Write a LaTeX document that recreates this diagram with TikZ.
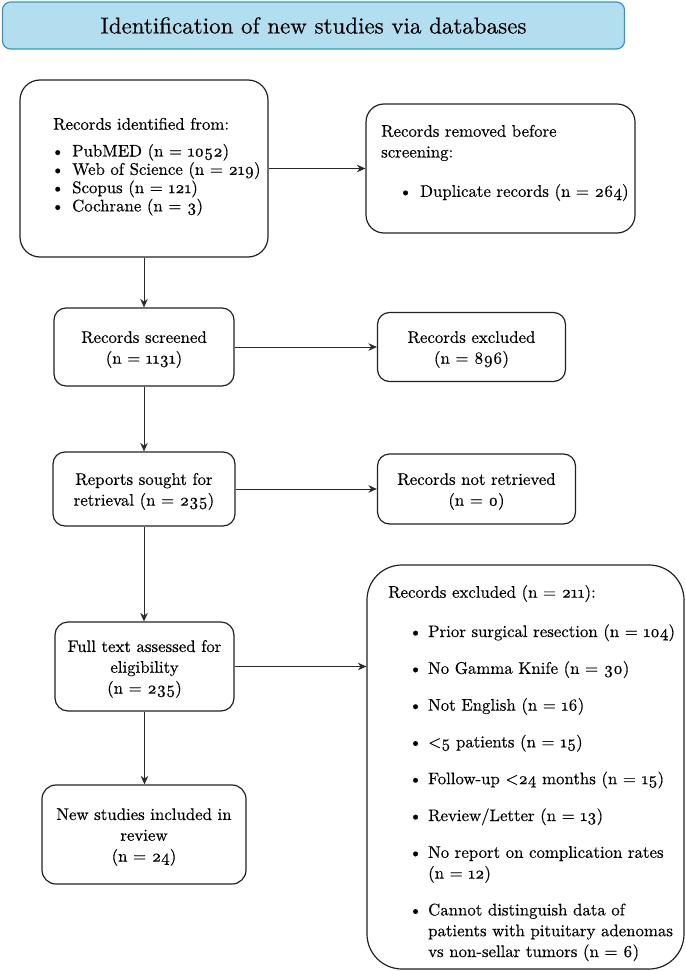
\documentclass[tikz,border=0pt]{standalone}
\usepackage{fontspec}
\setmainfont{lmroman10-regular.otf}[Numbers=OldStyle, FakeBold=0.4]
\usepackage{graphicx}
\usetikzlibrary{arrows.meta}
\definecolor{titlefill}{HTML}{B2DEF0}
\definecolor{titledraw}{HTML}{3D92C4}
\definecolor{boxline}{HTML}{222222}
\definecolor{arrline}{HTML}{2A2A2A}
\newcommand\bodyfont{\fontsize{16.8}{20.8}\selectfont}
\newcommand\listfontA{\fontsize{16.8}{18.3}\selectfont}
\newcommand\tstrut{\rule{0pt}{16.7pt}}
\newcommand\fstrut{\rule{0pt}{13pt}}
\newcommand\bul[1]{\makebox[#1][l]{\textbullet}}
\begin{document}
\begin{tikzpicture}[x=1pt,y=-1pt,
  box/.style={draw=boxline, line width=1.2pt, rectangle, inner sep=0pt, align=center, font=\bodyfont},
  conn/.style={draw=arrline, line width=1pt, -{Stealth[length=8.5pt,width=7.5pt]}},
  listtext/.style={anchor=north west, inner sep=0pt, align=left, font=\bodyfont}]
\useasboundingbox (0,0) rectangle (685,971);

\node[draw=titledraw, fill=titlefill, line width=1.2pt, rounded corners=8pt,
  minimum width=622pt, minimum height=47pt, inner sep=0pt,
  font=\fontsize{23}{27}\selectfont] (title) at (313.5,25.5)
  {Identification of new studies via databases};

% boxes
\node[box, rounded corners=20pt, minimum width=248pt, minimum height=177pt] (b1) at (144,168.5) {};
\node[box, rounded corners=18pt, minimum width=269pt, minimum height=129pt] (b2) at (500.5,168.5) {};
\node[box, rounded corners=12pt, minimum width=180pt, minimum height=78pt] (b3) at (144,347)
  {\tstrut Records screened\\(n = 1131)};
\node[box, rounded corners=12pt, minimum width=188pt, minimum height=69pt] (b4) at (471.5,347)
  {\tstrut Records excluded\\(n = 896)};
\node[box, rounded corners=12pt, minimum width=182pt, minimum height=74pt] (b5) at (144,489)
  {\tstrut Reports sought for\\retrieval (n = 235)};
\node[box, rounded corners=12pt, minimum width=198pt, minimum height=70pt] (b6) at (476.5,489)
  {\tstrut Records not retrieved\\(n = 0)};
\node[box, rounded corners=13pt, minimum width=179pt, minimum height=89pt] (b7) at (144.5,666.5)
  {\tstrut Full text assessed for\\eligibility\\(n = 235)};
\node[box, rounded corners=35pt, minimum width=317pt, minimum height=404pt] (b8) at (525.5,767) {};
\node[box, rounded corners=14pt, minimum width=204pt, minimum height=99pt] (b9) at (144,834.5)
  {\tstrut New studies included in\\review\\(n = 24)};

% list texts
\node[listtext, font=\listfontA] (t1) at (51,116.5)
  {\fstrut\hspace*{2pt}Records identified from:\\[8.5pt]
   \bul{21pt}PubMED (n = 1052)\\
   \bul{21pt}Web of Science (n = 219)\\
   \bul{21pt}Scopus (n = 121)\\
   \bul{21pt}Cochrane (n = 3)};
\node[listtext] (t2) at (381,123.5)
  {\fstrut Records removed before\\
   screening:\\[18.5pt]
   \hspace*{17.8pt}\bul{21.2pt}Duplicate records (n = 264)};
\node[listtext] (t8) at (388,584.5)
  {\fstrut Records excluded (n = 211):\\[18.5pt]
   \hspace*{20.8pt}\bul{19.2pt}Prior surgical resection (n = 104)\\[16pt]
   \hspace*{20.8pt}\bul{19.2pt}No Gamma Knife (n = 30)\\[16pt]
   \hspace*{20.8pt}\bul{19.2pt}Not English (n = 16)\\[16pt]
   \hspace*{20.8pt}\bul{19.2pt}<5 patients (n = 15)\\[16pt]
   \hspace*{20.8pt}\bul{19.2pt}Follow-up <24 months (n = 15)\\[16pt]
   \hspace*{20.8pt}\bul{19.2pt}Review/Letter (n = 13)\\[16pt]
   \hspace*{20.8pt}\bul{19.2pt}No report on complication rates\\
   \hspace*{40pt}(n = 12)\\[16pt]
   \hspace*{20.8pt}\bul{19.2pt}Cannot distinguish data of\\
   \hspace*{40pt}patients with pituitary adenomas\\
   \hspace*{40pt}vs non-sellar tumors (n = 6)};

% connectors
\draw[conn] (b1) -- (b2);
\draw[conn] (b1) -- (b3);
\draw[conn] (b3.east) -- (b3.east -| b4.west);
\draw[conn] (b3) -- (b5);
\draw[conn] (b5.east) -- (b5.east -| b6.west);
\draw[conn] (b5.south) -- (b5.south |- b7.north);
\draw[conn] (b7.east) -- (b7.east -| b8.west);
\draw[conn] (b7.south) -- (b7.south |- b9.north);
\end{tikzpicture}
\end{document}
